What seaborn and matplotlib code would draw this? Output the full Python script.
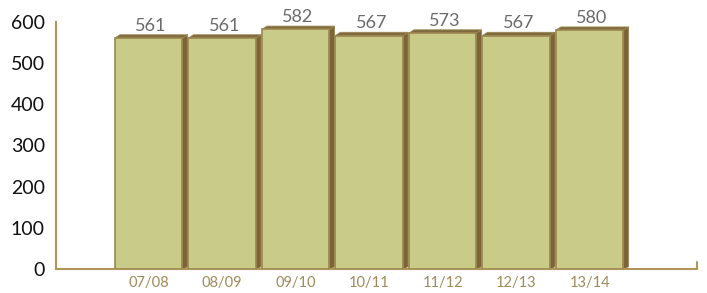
import matplotlib
matplotlib.use("Agg")
import matplotlib.pyplot as plt
from matplotlib.patches import Polygon
import seaborn as sns
import pandas as pd

seasons = ["07/08", "08/09", "09/10", "10/11", "11/12", "12/13", "13/14"]
values = [561, 561, 582, 567, 573, 567, 580]

df = pd.DataFrame({"season": seasons, "value": values})

face = "#c9cc88"
edge = "#9c8550"
side = "#7a6538"
top = "#7e6b3e"
axis_col = "#b09458"

sns.set_style("white")
plt.rcParams["font.family"] = ["Lato", "DejaVu Sans"]

fig = plt.figure(figsize=(7.07, 2.93), dpi=100)
ax = fig.add_axes([56 / 707, 24 / 293, 641 / 707, 247 / 293])

sns.barplot(data=df, x="season", y="value", color=face, width=0.92,
            edgecolor=edge, linewidth=1.2, saturation=1, ax=ax, zorder=3)

ax.set_xlim(-1.26, 7.46)
ax.set_ylim(0, 600)

# pseudo 3D depth: side and top faces built from each bar
dx, dy = 0.07, 8
for p, v in zip(ax.patches, values):
    x0 = p.get_x()
    x1 = x0 + p.get_width()
    h = p.get_height()
    ax.add_patch(Polygon([(x1, -2), (x1 + dx, dy - 2), (x1 + dx, h + dy), (x1, h)],
                         closed=True, facecolor=side, edgecolor=edge, lw=0.6,
                         zorder=2, clip_on=False))
    ax.add_patch(Polygon([(x0, h), (x0 + dx, h + dy), (x1 + dx, h + dy), (x1, h)],
                         closed=True, facecolor=top, edgecolor=edge, lw=0.6,
                         zorder=2, clip_on=False))
    ax.text(p.get_x() + p.get_width() / 2 + 0.03, h + dy + 2, str(v),
            ha="center", va="bottom", fontsize=13, color="#6b6b6b", clip_on=False)

for s in ["top", "right"]:
    ax.spines[s].set_visible(False)
for s in ["left", "bottom"]:
    ax.spines[s].set_color(axis_col)
    ax.spines[s].set_linewidth(1.5)

ax.set_yticks(range(0, 601, 100))
ax.tick_params(axis="y", direction="in", length=11, width=1.5, color=axis_col,
               labelsize=14, labelcolor="#111111", pad=8)
ax.tick_params(axis="x", length=0, labelsize=10.5, labelcolor="#a08a5a", pad=5)
ax.axvline(7.46, ymin=0, ymax=0.03, color=axis_col, lw=1.5, clip_on=False)

ax.set_xlabel("")
ax.set_ylabel("")
ax.grid(False)

plt.savefig("out.png", dpi=100)
plt.close()
